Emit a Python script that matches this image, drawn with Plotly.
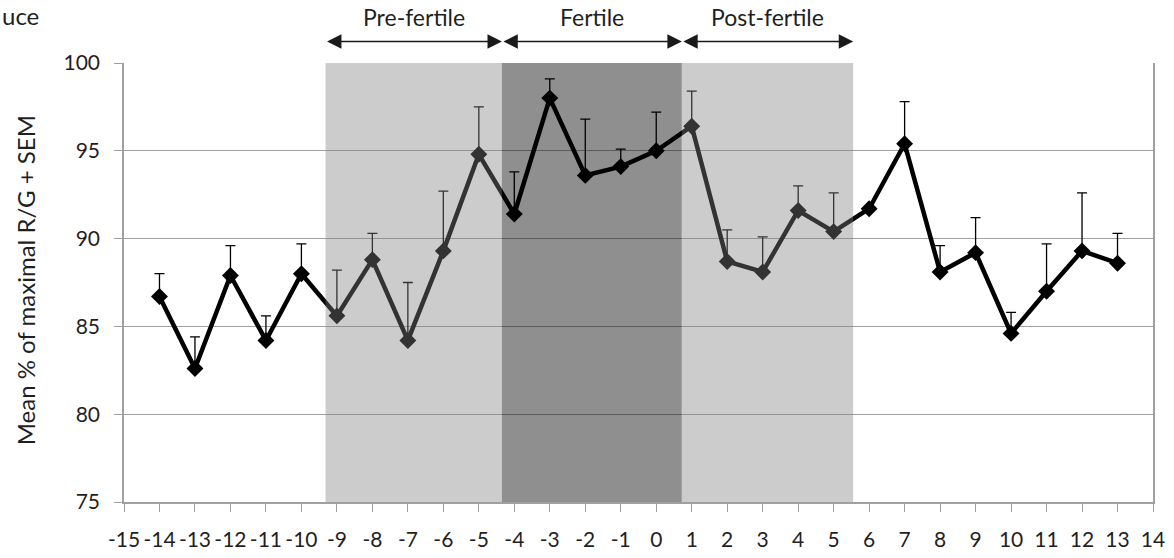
import plotly.graph_objects as go

days = [-14, -13, -12, -11, -10, -9, -8, -7, -6, -5, -4, -3, -2, -1, 0,
        1, 2, 3, 4, 5, 6, 7, 8, 9, 10, 11, 12, 13]
mean_rg = [86.7, 82.6, 87.9, 84.2, 88.0, 85.6, 88.8, 84.2, 89.3, 94.8, 91.4, 98.0, 93.6, 94.1, 95.0,
           96.4, 88.7, 88.1, 91.6, 90.4, 91.7, 95.4, 88.1, 89.2, 84.6, 87.0, 89.3, 88.6]
sem_rg = [1.3, 1.8, 1.7, 1.4, 1.7, 2.6, 1.5, 3.3, 3.4, 2.7, 2.4, 1.1, 3.2, 1.0, 2.2,
          2.0, 1.8, 2.0, 1.4, 2.2, 0.0, 2.4, 1.5, 2.0, 1.2, 2.7, 3.3, 1.7]

phase_names = ["Pre-fertile", "Fertile", "Post-fertile"]
phase_start = [-9.32, -4.35, 0.72]
phase_end = [-4.35, 0.72, 5.55]
phase_fill = ["rgba(128,128,128,0.40)", "rgba(0,0,0,0.44)", "rgba(128,128,128,0.40)"]

x_ticks = list(range(-15, 15))
y_ticks = [75, 80, 85, 90, 95, 100]

FONT = "Lato, 'Open Sans', sans-serif"
TXT = "#1f1f1f"

fig = go.Figure()
fig.add_trace(go.Scatter(
    x=days, y=mean_rg, mode="lines+markers",
    line=dict(color="black", width=4.5),
    marker=dict(symbol="diamond", size=13, color="black"),
    error_y=dict(type="data", array=sem_rg, symmetric=False,
                 arrayminus=[0] * len(sem_rg), color="black",
                 thickness=1.3, width=5),
    showlegend=False, hoverinfo="x+y",
))

shapes = []
for s, e, c in zip(phase_start, phase_end, phase_fill):
    shapes.append(dict(type="rect", xref="x", yref="y", x0=s, x1=e, y0=75, y1=100,
                       fillcolor=c, line=dict(width=0), layer="above"))

annotations = []
arrow_y = 1.049
for name, s, e in zip(phase_names, phase_start, phase_end):
    annotations.append(dict(x=e, y=arrow_y, ax=s, ay=0, xref="x", yref="paper",
                            axref="x", ayref="pixel", text="", showarrow=True,
                            arrowhead=2, startarrowhead=2, arrowside="end+start",
                            arrowsize=1.8, startarrowsize=1.8, arrowwidth=1.6,
                            arrowcolor="#1a1a1a"))
    annotations.append(dict(x=(s + e) / 2, y=1.105, xref="x", yref="paper",
                            text=name, showarrow=False, xanchor="center", yanchor="middle",
                            font=dict(family=FONT, size=23, color=TXT)))

annotations.append(dict(x=-0.1205, y=1.108, xref="paper", yref="paper", text="uce",
                        showarrow=False, xanchor="left", yanchor="middle",
                        font=dict(family=FONT, size=24, color=TXT)))
annotations.append(dict(x=-0.0962, y=0.505, xref="paper", yref="paper",
                        text="Mean % of maximal R/G + SEM", textangle=-90,
                        showarrow=False, xanchor="center", yanchor="middle",
                        font=dict(family=FONT, size=24, color=TXT)))

fig.update_layout(
    width=1174, height=558,
    margin=dict(l=124, r=21, t=63, b=56, autoexpand=False),
    paper_bgcolor="white", plot_bgcolor="white",
    shapes=shapes, annotations=annotations,
    font=dict(family=FONT, size=21, color=TXT),
)
fig.update_xaxes(range=[-15, 14], tickvals=x_ticks, ticktext=[str(v) for v in x_ticks],
                 tickangle=0, showgrid=False, zeroline=False, showline=True,
                 linecolor="#a0a0a0", linewidth=1.5, ticks="outside", ticklen=8,
                 tickcolor="#a0a0a0", tickwidth=1.3, ticklabelstandoff=10,
                 tickfont=dict(family=FONT, size=21, color=TXT))
fig.update_yaxes(range=[75, 100], tickvals=y_ticks, showgrid=True, gridcolor="#a0a0a0",
                 gridwidth=1.3, zeroline=False, showline=True, mirror=True,
                 linecolor="#a0a0a0", linewidth=1.5, ticks="outside", ticklen=8,
                 tickcolor="#a0a0a0", tickwidth=1.3, ticklabelstandoff=10,
                 tickfont=dict(family=FONT, size=21, color=TXT))

fig.write_html("out.html", config={"displayModeBar": False},
               post_script="document.body.style.margin='0px';")
